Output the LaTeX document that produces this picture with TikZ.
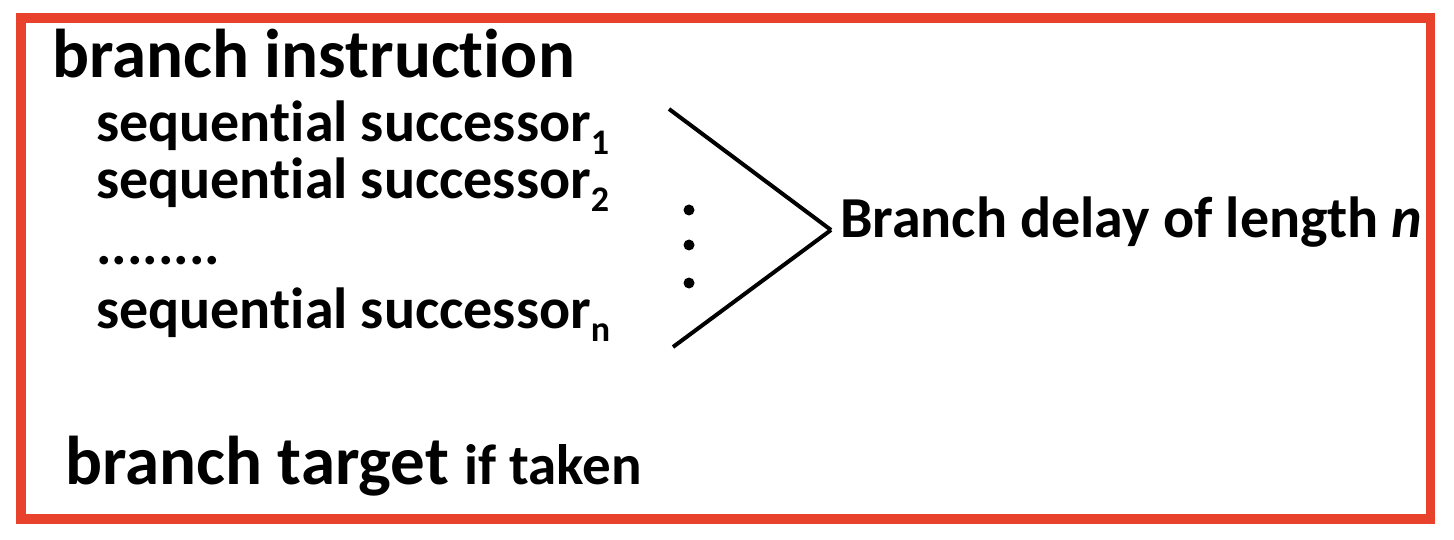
\documentclass[tikz,border=0pt]{standalone}
\usepackage{fontspec}
\setmainfont{Carlito}[RawFeature={-liga}]
\definecolor{borderred}{RGB}{232,66,44}
\newcommand\mysub[1]{\raisebox{-13pt}{\fontsize{36}{36}\selectfont #1}}
\tikzset{
  big/.style={anchor=base west, inner sep=0pt, font=\fontsize{69}{69}\selectfont\bfseries},
  mid/.style={anchor=base west, inner sep=0pt, font=\fontsize{58}{58}\selectfont\bfseries},
  chev/.style={line width=4pt, line cap=butt},
  dotnode/.style={circle, fill=black, inner sep=0pt, minimum width=11pt},
}
\begin{document}
\begin{tikzpicture}[x=1pt,y=-1pt]
\useasboundingbox (0,0) rectangle (1454,540);
\draw[line width=9.5pt, draw=borderred] (21,18) rectangle (1430.5,519);
\node[big] (bi) at (52,78) {branch instruction};
\node[mid] (s1) at (96,142) {sequential successor\mysub{1}};
\node[mid] (s2) at (96,199) {sequential successor\mysub{2}};
\node[mid] (sd) at (96,265) {........};
\node[mid] (sn) at (96,328) {sequential successor\mysub{n}};
\node[big] (bt) at (65,484) {branch target {\fontsize{57}{57}\selectfont if taken}};
\node[mid] (bd) at (840,238) {Branch delay of length \textit{n}};
\coordinate (c1) at (669,109);
\coordinate (apex) at (831,230);
\coordinate (c2) at (673,347);
\draw[chev] (c1) -- (apex);
\draw[chev] (c2) -- (apex);
\node[dotnode] (d1) at (689,210) {};
\node[dotnode] (d2) at (689,245) {};
\node[dotnode] (d3) at (689,283) {};
\end{tikzpicture}
\end{document}
